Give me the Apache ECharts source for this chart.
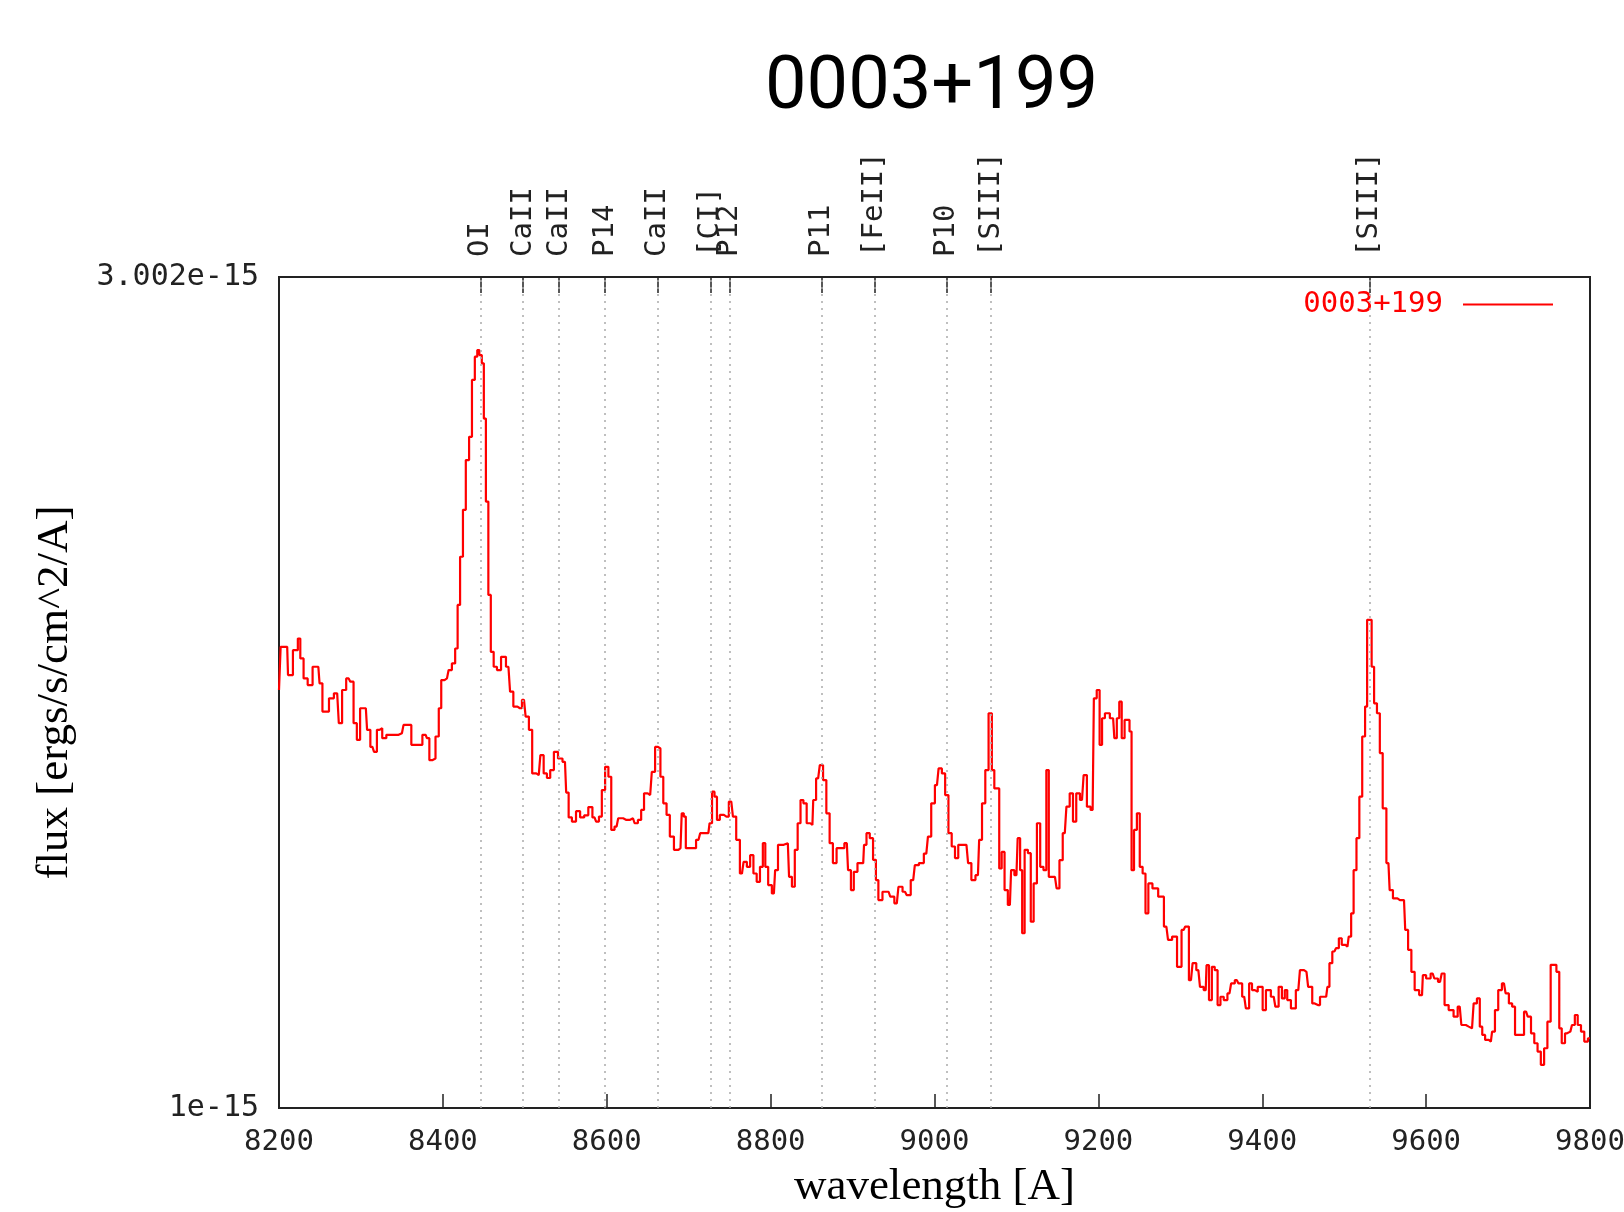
<!DOCTYPE html>
<html>
<head>
<meta charset="utf-8">
<title>0003+199</title>
<script src="https://cdn.jsdelivr.net/npm/echarts@6/dist/echarts.min.js"></script>
<style>
  html, body { margin: 0; padding: 0; background: #fff; }
  #chart { width: 1624px; height: 1212px; }
</style>
</head>
<body>
<div id="chart"></div>
<script>
// spectrum: wavelength in A, flux in units of 1e-15 ergs/s/cm^2/A
const wavelength = [
  8200, 8204, 8210, 8212, 8216, 8218, 8222, 8224, 8228, 8232, 8238, 8244, 8248, 8251, 8255, 8259,
  8263, 8271, 8275, 8279, 8285, 8289, 8293, 8297, 8301, 8306, 8309, 8314, 8318, 8321, 8324, 8328,
  8334, 8342, 8350, 8354, 8359, 8364, 8371, 8379, 8382, 8385, 8389, 8393, 8397, 8399, 8405, 8409,
  8413, 8417, 8419, 8423, 8426, 8430, 8434, 8437, 8441, 8443, 8446, 8449, 8451, 8454, 8457, 8460,
  8464, 8468, 8474, 8480, 8484, 8488, 8494, 8499, 8503, 8507, 8511, 8517, 8521, 8525, 8529, 8533,
  8538, 8543, 8549, 8552, 8555, 8560, 8565, 8570, 8575, 8580, 8585, 8589,
  8592, 8596, 8600, 8604, 8607, 8612, 8616, 8624, 8632, 8636, 8640, 8644, 8647, 8653, 8657, 8661,
  8664, 8667, 8671, 8675, 8679, 8685, 8690, 8693, 8695, 8698, 8706, 8712, 8716, 8724, 8727, 8730,
  8733, 8736, 8740, 8746, 8752, 8756, 8760, 8765, 8769, 8773, 8777, 8781, 8785, 8789, 8792, 8795,
  8799, 8804, 8807, 8811, 8821, 8824, 8828, 8831, 8835, 8838, 8842, 8846, 8851, 8853, 8858, 8862,
  8866, 8870, 8874, 8878, 8883, 8887, 8893, 8896, 8900, 8903, 8909, 8913, 8915, 8919, 8923, 8927,
  8930, 8933, 8940, 8944, 8948, 8954, 8958, 8964, 8968, 8974, 8978, 8984, 8990, 8994, 8998, 9003,
  9007, 9011, 9015, 9019, 9023, 9027, 9031, 9039, 9043, 9047, 9053, 9056, 9060, 9064, 9068, 9072,
  9074, 9078, 9080, 9084, 9087, 9092, 9095, 9100, 9103, 9106, 9108, 9112, 9116, 9119, 9123, 9127,
  9131, 9135, 9138, 9141, 9147, 9151, 9154, 9159, 9163, 9167, 9171, 9175, 9180, 9184, 9188, 9193,
  9196, 9200, 9203, 9206, 9210, 9218, 9221, 9224, 9227, 9230, 9234, 9237, 9239, 9242, 9245, 9249,
  9252, 9256, 9259, 9263, 9269, 9277, 9283, 9287, 9293, 9299, 9304, 9308, 9313, 9317, 9322, 9326,
  9331, 9333, 9337, 9340, 9344, 9347, 9351, 9355, 9360, 9364, 9369, 9373, 9378, 9382, 9386, 9389,
  9393, 9396, 9399, 9402, 9407, 9414, 9418, 9422, 9426, 9429, 9432, 9438, 9444, 9448, 9454, 9458,
  9464, 9468, 9473, 9478, 9481, 9483, 9488, 9492, 9495, 9499, 9504, 9507, 9510, 9513, 9517, 9520,
  9524, 9527, 9529, 9532, 9535, 9538, 9542, 9545, 9549, 9554, 9557, 9562, 9568, 9573, 9576, 9580,
  9584, 9588, 9595, 9597, 9603, 9608, 9612, 9617, 9621, 9624, 9631, 9636, 9641, 9645, 9652, 9656,
  9660, 9664, 9667, 9670, 9674, 9679, 9682, 9686, 9690, 9695, 9699, 9703, 9707, 9710, 9717, 9722,
  9726, 9730, 9734, 9738, 9742, 9746, 9750, 9754, 9757, 9761, 9764, 9767, 9772, 9776, 9780, 9783,
  9787, 9791, 9795, 9800
];
const fluxE15 = [
  2.007, 2.111, 2.111, 2.043, 2.043, 2.103, 2.103, 2.131, 2.083, 2.035, 2.019, 2.063, 2.063, 2.023, 1.955, 1.955,
  1.987, 1.999, 1.927, 2.007, 2.035, 2.027, 1.927, 1.887, 1.963, 1.963, 1.911, 1.870, 1.858, 1.911, 1.915, 1.891,
  1.899, 1.899, 1.903, 1.923, 1.923, 1.875, 1.875, 1.899, 1.891, 1.838, 1.842, 1.895, 1.963, 2.031, 2.035, 2.055,
  2.071, 2.107, 2.212, 2.328, 2.441, 2.561, 2.617, 2.754, 2.810, 2.826, 2.814, 2.794, 2.661, 2.461, 2.236, 2.099,
  2.063, 2.055, 2.087, 2.063, 2.003, 1.967, 1.963, 1.983, 1.943, 1.911, 1.806, 1.802, 1.850, 1.806, 1.795, 1.814,
  1.858, 1.842, 1.834, 1.760, 1.700, 1.690, 1.715, 1.700, 1.705, 1.725, 1.700, 1.690,
  1.702, 1.766, 1.822, 1.798, 1.670, 1.678, 1.698, 1.694, 1.698, 1.686, 1.694, 1.718, 1.758, 1.754, 1.810, 1.870,
  1.866, 1.798, 1.734, 1.706, 1.654, 1.622, 1.626, 1.710, 1.702, 1.626, 1.626, 1.646, 1.662, 1.662, 1.686, 1.762,
  1.750, 1.694, 1.706, 1.702, 1.738, 1.702, 1.646, 1.565, 1.593, 1.581, 1.609, 1.565, 1.545, 1.581, 1.638, 1.581,
  1.537, 1.517, 1.573, 1.634, 1.638, 1.557, 1.533, 1.622, 1.686, 1.742, 1.734, 1.686, 1.682, 1.742, 1.794, 1.826,
  1.790, 1.710, 1.638, 1.590, 1.626, 1.626, 1.638, 1.573, 1.525, 1.569, 1.590, 1.590, 1.634, 1.662, 1.650, 1.598,
  1.549, 1.501, 1.521, 1.521, 1.509, 1.493, 1.533, 1.521, 1.513, 1.549, 1.585, 1.590, 1.613, 1.654, 1.734, 1.778,
  1.818, 1.806, 1.754, 1.662, 1.630, 1.602, 1.634, 1.634, 1.590, 1.549, 1.561, 1.646, 1.734, 1.814, 1.951, 1.814,
  1.770, 1.770, 1.577, 1.617, 1.525, 1.489, 1.573, 1.561, 1.650, 1.573, 1.421, 1.622, 1.614, 1.449, 1.541, 1.686,
  1.581, 1.573, 1.814, 1.557, 1.557, 1.529, 1.597, 1.662, 1.726, 1.758, 1.690, 1.758, 1.742, 1.802, 1.726, 1.718,
  1.987, 2.007, 1.875, 1.939, 1.951, 1.939, 1.891, 1.939, 1.979, 1.891, 1.935, 1.935, 1.907, 1.573, 1.670, 1.710,
  1.581, 1.565, 1.469, 1.541, 1.529, 1.509, 1.437, 1.405, 1.413, 1.340, 1.429, 1.437, 1.308, 1.349, 1.332, 1.292,
  1.284, 1.344, 1.260, 1.340, 1.332, 1.248, 1.268, 1.260, 1.276, 1.300, 1.308, 1.300, 1.268, 1.240, 1.300, 1.284,
  1.280, 1.292, 1.292, 1.236, 1.284, 1.268, 1.244, 1.292, 1.264, 1.284, 1.260, 1.240, 1.284, 1.332, 1.328, 1.292,
  1.252, 1.248, 1.268, 1.268, 1.292, 1.349, 1.377, 1.385, 1.409, 1.393, 1.389, 1.413, 1.469, 1.573, 1.650, 1.750,
  1.895, 1.967, 2.176, 2.176, 2.063, 1.975, 1.951, 1.855, 1.722, 1.590, 1.525, 1.505, 1.501, 1.501, 1.429, 1.381,
  1.328, 1.284, 1.272, 1.320, 1.312, 1.324, 1.312, 1.304, 1.324, 1.248, 1.236, 1.220, 1.244, 1.200, 1.196, 1.192,
  1.252, 1.264, 1.196, 1.176, 1.164, 1.160, 1.184, 1.236, 1.284, 1.300, 1.276, 1.252, 1.244, 1.176, 1.176, 1.232,
  1.220, 1.180, 1.156, 1.136, 1.104, 1.144, 1.208, 1.345, 1.345, 1.328, 1.192, 1.156, 1.180, 1.184, 1.200, 1.224,
  1.200, 1.184, 1.160, 1.168
];

// identified lines (top axis)
const lineWaves = [8446, 8498, 8542, 8598, 8662, 8727, 8750, 8862, 8927, 9015, 9069, 9531];
const lineNames = ['OI', 'CaII', 'CaII', 'P14', 'CaII', '[CI]', 'P12', 'P11', '[FeII]', 'P10', '[SIII]', '[SIII]'];

// y axis only labels its two ends
const yTickValues = [1, 3.002];
const yTickLabels = ['1e-15', '3.002e-15'];

const mono = 'DejaVu Sans Mono';
const axisColor = '#222';

const chart = echarts.init(document.getElementById('chart'));
const data = wavelength.map((w, i) => [w, fluxE15[i]]);

const option = {
  animation: false,
  backgroundColor: '#fff',
  title: {
    text: '0003+199',
    left: 765,
    top: 52,
    padding: 0,
    textStyle: { fontFamily: 'Roboto', fontSize: 74, fontWeight: 'normal', color: '#000' },
  },
  legend: {
    data: ['0003+199'],
    right: 71,
    top: 290,
    padding: 0,
    align: 'right',
    icon: 'rect',
    itemWidth: 90,
    itemHeight: 2,
    textStyle: { color: '#ff0000', fontFamily: mono, fontSize: 29, padding: [0, 15, 0, 0] },
  },
  grid: {
    left: 279,
    right: 34,
    top: 277,
    bottom: 104,
    outerBoundsMode: 'none',
    containLabel: false,
    show: true,
    borderColor: axisColor,
    borderWidth: 2,
  },
  xAxis: [
    {
      type: 'value',
      min: 8200,
      max: 9800,
      interval: 200,
      position: 'bottom',
      name: 'wavelength [A]',
      nameLocation: 'middle',
      nameGap: 57,
      nameTextStyle: { fontFamily: 'Liberation Serif', fontSize: 45, color: '#000' },
      axisLine: { lineStyle: { color: axisColor, width: 2 } },
      axisTick: { inside: true, length: 14, lineStyle: { color: axisColor, width: 1.5 } },
      axisLabel: { margin: 20, fontFamily: mono, fontSize: 29, color: axisColor, formatter: (v) => String(v) },
      splitLine: { show: false },
    },
    {
      type: 'value',
      min: 8200,
      max: 9800,
      position: 'top',
      axisLine: { lineStyle: { color: axisColor, width: 2 } },
      axisTick: { inside: true, length: 16, customValues: lineWaves, lineStyle: { color: axisColor, width: 1.5 } },
      axisLabel: {
        customValues: lineWaves,
        rotate: -90,
        margin: 20,
        fontFamily: mono,
        fontSize: 29,
        color: axisColor,
        formatter: (v) => lineNames[lineWaves.indexOf(v)],
      },
      splitLine: { show: false },
    },
  ],
  yAxis: {
    type: 'value',
    min: 1,
    max: 3.002,
    name: 'flux [ergs/s/cm^2/A]',
    nameLocation: 'middle',
    nameGap: 201,
    nameRotate: 90,
    nameTextStyle: { fontFamily: 'Liberation Serif', fontSize: 45, color: '#000' },
    axisLine: { show: true, lineStyle: { color: axisColor, width: 2 } },
    axisTick: { inside: true, length: 14, customValues: yTickValues, lineStyle: { color: axisColor, width: 1.5 } },
    axisLabel: {
      customValues: yTickValues,
      margin: 20,
      fontFamily: mono,
      fontSize: 30,
      color: axisColor,
      formatter: (v) => yTickLabels[yTickValues.indexOf(v)],
    },
    splitLine: { show: false },
  },
  series: [
    {
      name: '0003+199',
      type: 'line',
      xAxisIndex: 0,
      data: data,
      step: 'middle',
      showSymbol: false,
      lineStyle: { color: '#ff0000', width: 2.2 },
      itemStyle: { color: '#ff0000' },
      markLine: {
        silent: true,
        symbol: 'none',
        label: { show: false },
        lineStyle: { color: '#aaa', type: [2, 5], width: 1.5 },
        data: lineWaves.map((w) => ({ xAxis: w })),
      },
    },
  ],
};

chart.setOption(option);
window.addEventListener('resize', chart.resize);
</script>
</body>
</html>
